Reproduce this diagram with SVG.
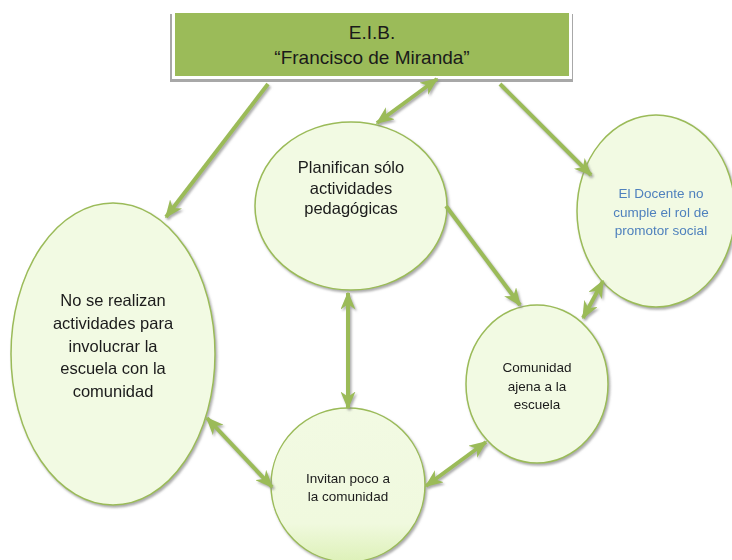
<svg xmlns="http://www.w3.org/2000/svg" width="732" height="560" viewBox="0 0 732 560">
<style>
.node{fill:#F2FAE3;stroke:#9BBB59;stroke-width:1.5}
.t{font-family:"Liberation Sans",Arial,sans-serif;font-size:16.5px;fill:#1a1a1a;text-anchor:middle}
.tt{font-family:"Liberation Sans",Arial,sans-serif;font-size:19px;fill:#1a1a1a;text-anchor:middle}
.ts{font-family:"Liberation Sans",Arial,sans-serif;font-size:13.5px;fill:#1a1a1a;text-anchor:middle}
.tb{font-family:"Liberation Sans",Arial,sans-serif;font-size:13.5px;fill:#4F81BD;text-anchor:middle}
.c{stroke:#9BBB59;stroke-width:4;fill:none;marker-end:url(#ah)}
.d{marker-start:url(#ah)}
</style>
<defs>
<linearGradient id="fillg" x1="0" y1="0" x2="0" y2="1">
<stop offset="0" stop-color="#F2FAE3"/>
<stop offset="0.75" stop-color="#F0F9DE"/>
<stop offset="1" stop-color="#DDF1B8"/>
</linearGradient>
<marker id="ah" viewBox="0 0 12 10" refX="11" refY="5" markerWidth="18" markerHeight="15" markerUnits="userSpaceOnUse" orient="auto-start-reverse">
<path d="M0,0 L12,5 L0,10 L3.5,5 Z" fill="#9BBB59"/>
</marker>
<filter id="ds" x="-20%" y="-20%" width="140%" height="140%">
<feDropShadow dx="1.5" dy="2" stdDeviation="0.8" flood-color="#888" flood-opacity="0.7"/>
</filter>
</defs>

<g id="eib">
<rect x="170" y="14" width="403" height="68" fill="#a8a8a8"/>
<rect x="172" y="11" width="400" height="68" fill="#ffffff"/>
<rect x="175" y="13" width="394" height="63" fill="#9BBB59"/>
<text class="tt" x="372" y="39">E.I.B.</text>
<text class="tt" x="372" y="64">“Francisco de Miranda”</text>
</g>

<g id="planifican" filter="url(#ds)">
<ellipse class="node" cx="351" cy="206" rx="96" ry="84"/>
<text class="t" x="351" y="173">Planifican sólo</text>
<text class="t" x="351" y="194">actividades</text>
<text class="t" x="351" y="214">pedagógicas</text>
</g>

<g id="docente" filter="url(#ds)">
<ellipse class="node" cx="656" cy="211" rx="79" ry="96"/>
<text class="tb" x="661" y="198">El Docente no</text>
<text class="tb" x="661" y="217">cumple el rol de</text>
<text class="tb" x="661" y="235">promotor social</text>
</g>

<g id="norealizan" filter="url(#ds)">
<ellipse class="node" cx="113" cy="354" rx="102" ry="151"/>
<text class="t" x="113" y="306">No se realizan</text>
<text class="t" x="113" y="329">actividades para</text>
<text class="t" x="113" y="352">involucrar la</text>
<text class="t" x="113" y="374">escuela con la</text>
<text class="t" x="113" y="397">comunidad</text>
</g>

<g id="invitan" filter="url(#ds)">
<ellipse class="node" cx="348" cy="485" rx="77" ry="77" style="fill:url(#fillg)"/>
<text class="ts" x="348" y="483">Invitan poco a</text>
<text class="ts" x="348" y="501">la comunidad</text>
</g>

<g id="comunidad" filter="url(#ds)">
<ellipse class="node" cx="537" cy="384" rx="71" ry="79"/>
<text class="ts" x="537" y="372">Comunidad</text>
<text class="ts" x="537" y="391">ajena a la</text>
<text class="ts" x="537" y="409">escuela</text>
</g>

<g id="connectors" filter="url(#ds)">
<line class="c" x1="268" y1="84" x2="166" y2="217"/>
<line class="c d" x1="377" y1="123" x2="437" y2="79"/>
<line class="c" x1="500" y1="84" x2="591" y2="175"/>
<line class="c" x1="446" y1="206" x2="520" y2="305"/>
<line class="c d" x1="583" y1="318" x2="603" y2="281"/>
<line class="c d" x1="348" y1="293" x2="348" y2="408"/>
<line class="c d" x1="207" y1="418" x2="272" y2="487"/>
<line class="c d" x1="426" y1="486" x2="486" y2="442"/>
</g>
</svg>
